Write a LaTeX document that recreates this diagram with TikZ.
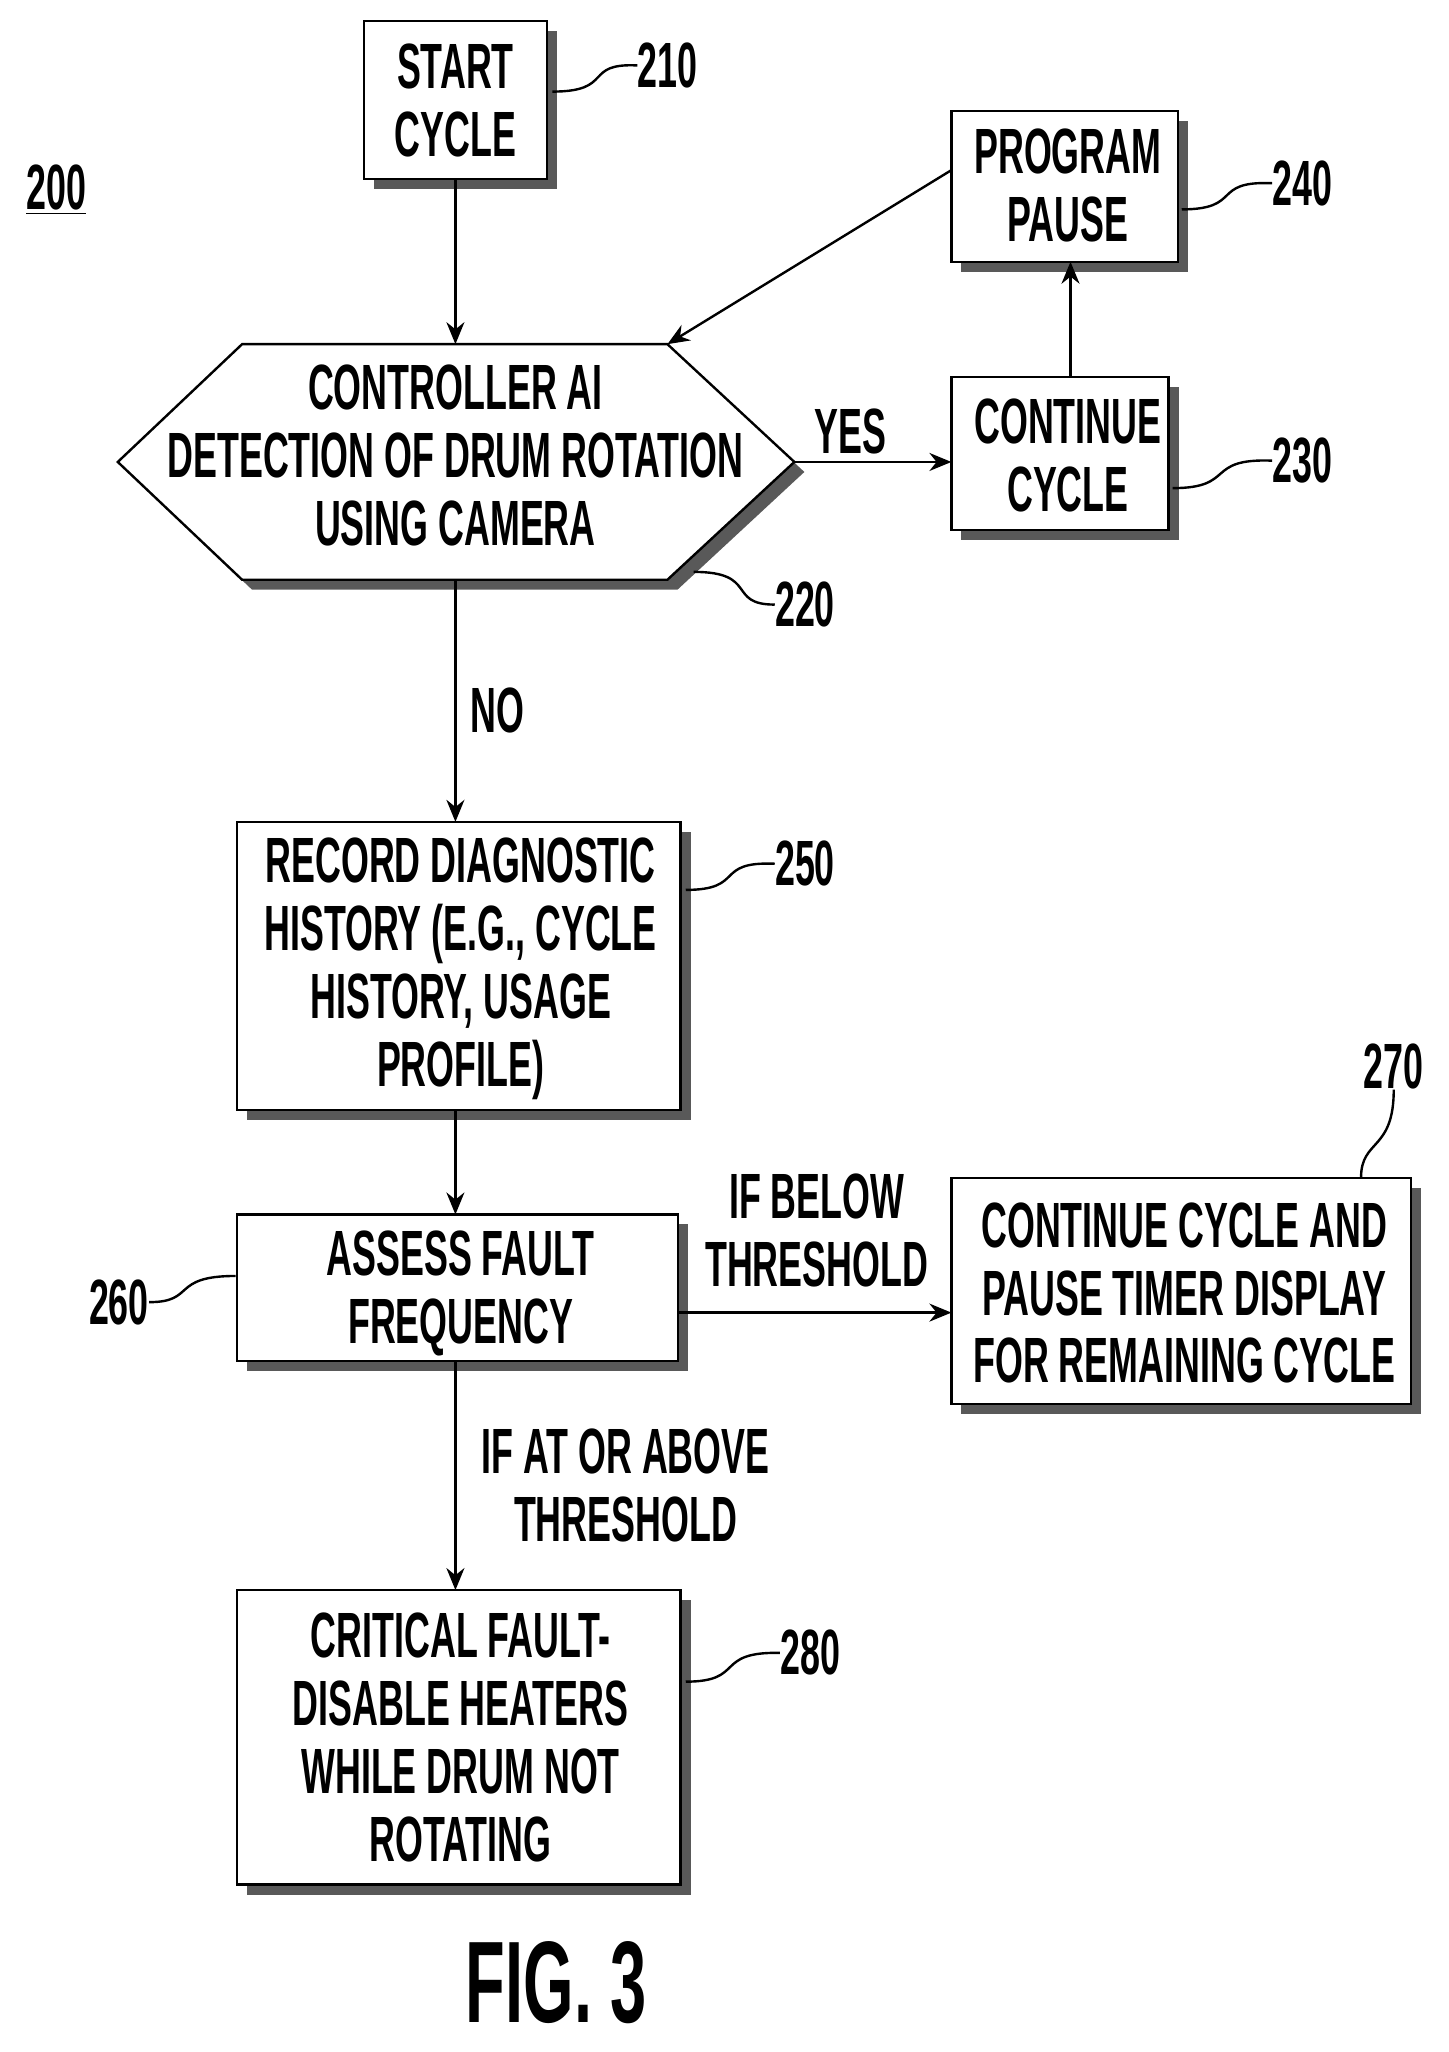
\documentclass[tikz,border=0pt]{standalone}
\usepackage{fontspec}
\setmainfont{Liberation Sans}[FakeStretch=0.56]
\usetikzlibrary{arrows.meta,shadows}
\begin{document}
\begin{tikzpicture}[x=0.6545pt,y=-0.6545pt,
  font=\fontsize{32}{34}\selectfont\bfseries,
  box/.style={draw,line width=1.2pt,fill=white,drop shadow={shadow xshift=5pt,shadow yshift=-5pt,fill=black!65,opacity=1}},
  arr/.style={line width=1.2pt,-{Stealth[length=11pt,width=9pt]}},
  lead/.style={line width=1.2pt},
  txt/.style={align=center,inner sep=0pt}]
\useasboundingbox (0,0) rectangle (1107,1568);
% boxes
\draw[box] (278,16) rectangle (418,137);
\node[txt] (t210) at (348,77) {START\\CYCLE};
\draw[box] (185,263) -- (510,263) -- (607,353) -- (510,443) -- (185,443) -- (90,353) -- cycle;
\node[txt] (hex) at (348,348) {CONTROLLER AI\\DETECTION OF DRUM ROTATION\\USING CAMERA};
\draw[box] (727,85) rectangle (900,200);
\node[txt] (t240) at (816,142) {PROGRAM\\PAUSE};
\draw[box] (727,288) rectangle (893,405);
\node[txt] (t230) at (816,348) {CONTINUE\\CYCLE};
\draw[box] (181,628) rectangle (520,848);
\node[txt] (t250) at (352,740) {RECORD DIAGNOSTIC\\HISTORY (E.G., CYCLE\\HISTORY, USAGE\\PROFILE)};
\draw[box] (181,928) rectangle (518,1040);
\node[txt] (t260) at (352,988) {ASSESS FAULT\\FREQUENCY};
\draw[box] (727,900) rectangle (1078,1073);
\node[txt] (t270) at (905,988) {CONTINUE CYCLE AND\\PAUSE TIMER DISPLAY\\FOR REMAINING CYCLE};
\draw[box] (181,1215) rectangle (520,1440);
\node[txt] (t280) at (352,1328) {CRITICAL FAULT-\\DISABLE HEATERS\\WHILE DRUM NOT\\ROTATING};
% coordinates
\coordinate (a1) at (348,137); \coordinate (a2) at (348,263);
\coordinate (b1) at (607,353); \coordinate (b2) at (727,353);
\coordinate (c1) at (818,288); \coordinate (c2) at (818,200);
\coordinate (d1) at (727,130); \coordinate (d2) at (510,263);
\coordinate (e1) at (348,443); \coordinate (e2) at (348,628);
\coordinate (f1) at (348,848); \coordinate (f2) at (348,928);
\coordinate (g1) at (518,1003); \coordinate (g2) at (727,1003);
\coordinate (h1) at (348,1040); \coordinate (h2) at (348,1215);
\draw[arr] (a1) -- (a2);
\draw[arr] (b1) -- (b2);
\draw[arr] (c1) -- (c2);
\draw[arr] (d1) -- (d2);
\draw[arr] (e1) -- (e2);
\draw[arr] (f1) -- (f2);
\draw[arr] (g1) -- (g2);
\draw[arr] (h1) -- (h2);
\node[txt] (yes) at (650,330) {YES};
\node[txt] (no) at (380,543) {NO};
\node[txt] (below) at (624,940) {IF BELOW\\THRESHOLD};
\node[txt] (above) at (478,1135) {IF AT OR ABOVE\\THRESHOLD};
% reference numbers
\node[txt] (n200) at (43,145) {\underline{200}};
\node[txt,anchor=west] (n210) at (487,50) {210};
\node[txt,anchor=west] (n240) at (972,140) {240};
\node[txt,anchor=west] (n230) at (972,352) {230};
\node[txt,anchor=west] (n220) at (592,462) {220};
\node[txt,anchor=west] (n250) at (592,660) {250};
\node[txt,anchor=east] (n260) at (114,995) {260};
\node[txt] (n270) at (1065,815) {270};
\node[txt,anchor=west] (n280) at (596,1263) {280};
\draw[lead] (422,70) .. controls (470,70) and (445,48) .. (n210.west);
\draw[lead] (903,160) .. controls (950,160) and (925,138) .. (n240.west);
\draw[lead] (896,373) .. controls (945,373) and (920,350) .. (n230.west);
\draw[lead] (530,437) .. controls (580,437) and (555,462) .. (n220.west);
\draw[lead] (524,680) .. controls (570,680) and (545,658) .. (n250.west);
\draw[lead] (n260.east) .. controls (150,995) and (130,975) .. (180,975);
\draw[lead] (n270.south) .. controls (1065,880) and (1040,870) .. (1040,900);
\draw[lead] (524,1285) .. controls (570,1285) and (545,1262) .. (n280.west);
\node[txt,font=\fontsize{58}{60}\selectfont\bfseries] (fig) at (425,1515) {FIG. 3};
\end{tikzpicture}
\end{document}
